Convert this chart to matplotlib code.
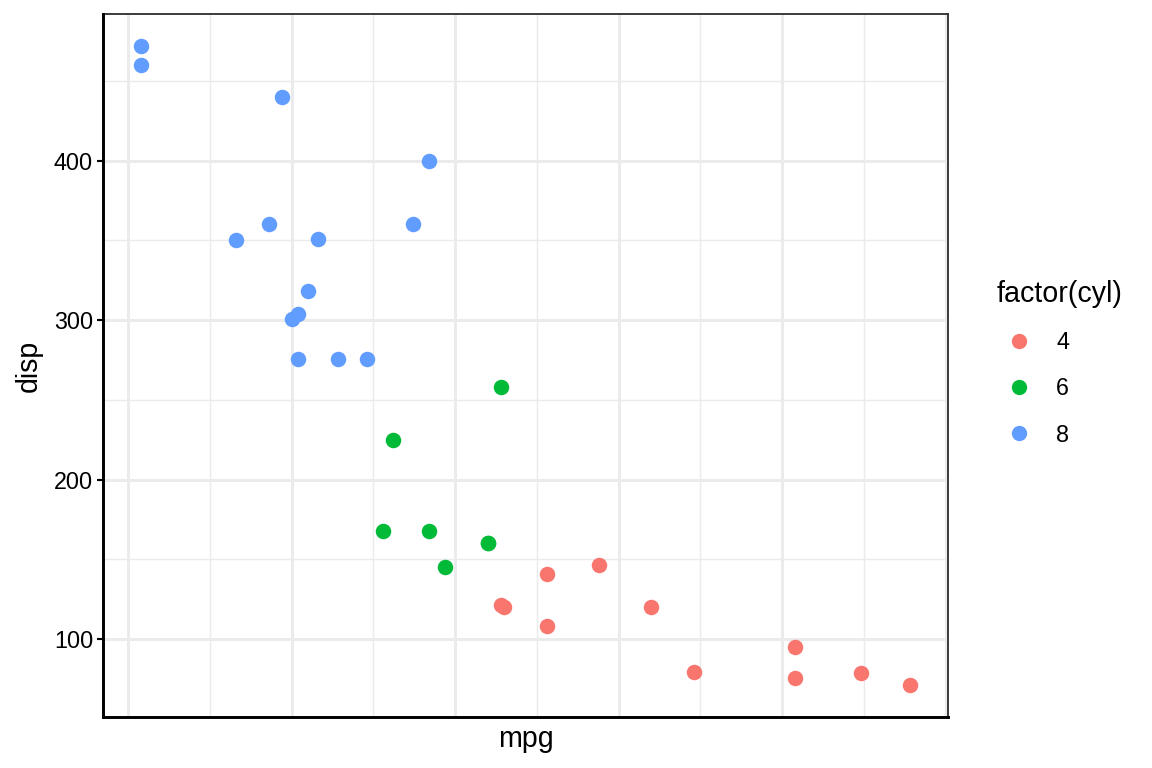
import matplotlib.pyplot as plt
from matplotlib.ticker import MultipleLocator
from matplotlib.lines import Line2D

# mtcars: mpg, disp, cyl
mpg = [21.0, 21.0, 22.8, 21.4, 18.7, 18.1, 14.3, 24.4, 22.8, 19.2, 17.8,
       16.4, 17.3, 15.2, 10.4, 10.4, 14.7, 32.4, 30.4, 33.9, 21.5, 15.5,
       15.2, 13.3, 19.2, 27.3, 26.0, 30.4, 15.8, 19.7, 15.0, 21.4]
disp = [160, 160, 108, 258, 360, 225, 360, 146.7, 140.8, 167.6, 167.6,
        275.8, 275.8, 275.8, 472, 460, 440, 78.7, 75.7, 71.1, 120.1, 318,
        304, 350, 400, 79, 120.3, 95.1, 351, 145, 301, 121]
cyl = [6, 6, 4, 6, 8, 6, 8, 4, 4, 6, 6, 8, 8, 8, 8, 8, 8, 4, 4, 4, 4, 8,
       8, 8, 8, 4, 4, 4, 8, 6, 8, 4]
levels = [4, 6, 8]
colors = {4: '#F8766D', 6: '#00BA38', 8: '#619CFF'}

plt.rcParams['font.family'] = ['Liberation Sans', 'DejaVu Sans']

fig = plt.figure(figsize=(12, 8), dpi=96)
ax = fig.add_axes([103 / 1152, 51 / 768, 845 / 1152, 703 / 768])

for lv in levels:
    xs = [m for m, c in zip(mpg, cyl) if c == lv]
    ys = [d for d, c in zip(disp, cyl) if c == lv]
    ax.scatter(xs, ys, s=135, color=colors[lv], linewidths=0, zorder=3)

# ggplot-like expansion
xr = max(mpg) - min(mpg)
yr = max(disp) - min(disp)
ax.set_xlim(min(mpg) - 0.05 * xr, max(mpg) + 0.05 * xr)
ax.set_ylim(min(disp) - 0.05 * yr, max(disp) + 0.05 * yr)

ax.xaxis.set_major_locator(MultipleLocator(5))
ax.xaxis.set_minor_locator(MultipleLocator(2.5))
ax.yaxis.set_major_locator(MultipleLocator(100))
ax.yaxis.set_minor_locator(MultipleLocator(50))
ax.grid(which='major', color='#EBEBEB', linewidth=2.2, zorder=0)
ax.grid(which='minor', color='#EBEBEB', linewidth=1.1, zorder=0)
ax.set_axisbelow(True)

ax.tick_params(axis='x', which='both', length=0, labelbottom=False)
ax.tick_params(axis='y', which='major', length=4.5, width=1.6, color='black',
               labelsize=17.5, labelcolor='black', pad=3)
ax.tick_params(axis='y', which='minor', length=0)

for side in ['top', 'right']:
    ax.spines[side].set_color('#333333')
    ax.spines[side].set_linewidth(1.4)
for side in ['left', 'bottom']:
    ax.spines[side].set_color('black')
    ax.spines[side].set_linewidth(2.2)
    ax.spines[side].set_zorder(4)

ax.set_xlabel('mpg', fontsize=21.5, labelpad=6)
ax.set_ylabel('disp', fontsize=21.5, labelpad=8)

handles = [Line2D([], [], marker='o', linestyle='', markersize=11.5,
                  markerfacecolor=colors[lv], markeredgewidth=0)
           for lv in levels]
leg = fig.legend(handles, [str(lv) for lv in levels], title='factor(cyl)',
                 loc='upper left', bbox_to_anchor=(985 / 1152, 1 - 268 / 768),
                 frameon=False, fontsize=17.5, title_fontsize=21.5,
                 handletextpad=0.65, labelspacing=1.0, borderaxespad=0,
                 handlelength=1.9, borderpad=0.5)
leg._legend_box.align = 'left'

fig.savefig('out.png', dpi=96)
